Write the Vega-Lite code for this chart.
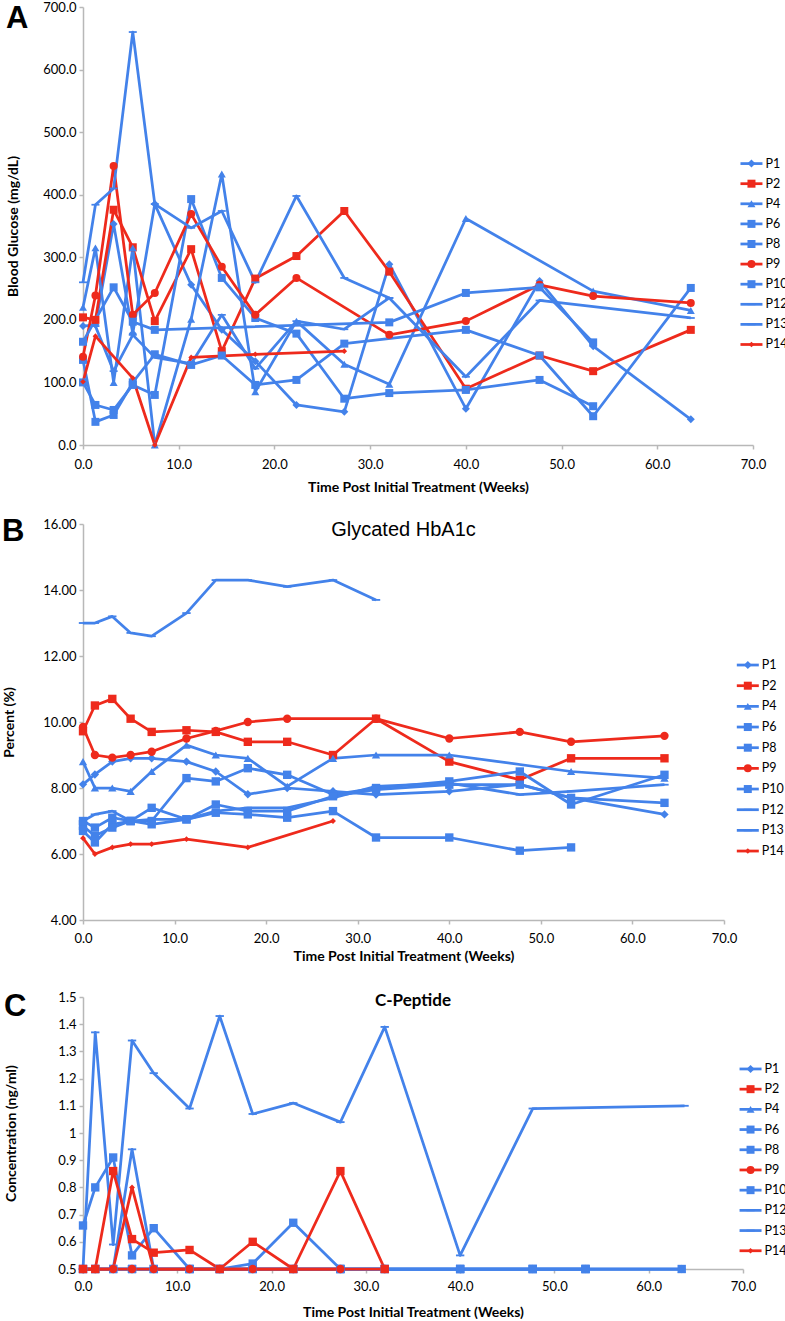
{
"$schema": "https://vega.github.io/schema/vega-lite/v6.json",
"padding": {"left": 2, "top": 1, "right": 0, "bottom": 0},
"background": "white",
"config": {
  "view": {"stroke": null},
  "font": "Lato",
  "axis": {"grid": false, "labelFlush": false, "labelOverlap": false, "domainColor": "#b8b8b8", "domainWidth": 1.5, "tickColor": "#b8b8b8", "tickWidth": 1.5, "tickSize": 4, "labelColor": "#000", "labelFont": "Lato", "labelFontSize": 13, "titleColor": "#000", "titleFont": "Lato", "titleFontWeight": "bold", "titleFontSize": 14},
  "title": {"color": "#000"}
},
"datasets": {
"glucose": [
{"patient":"P1","week":0,"value":190},{"patient":"P1","week":1.3,"value":192},{"patient":"P1","week":3.2,"value":353},{"patient":"P1","week":5.2,"value":178},{"patient":"P1","week":7.5,"value":385},{"patient":"P1","week":11.3,"value":256},{"patient":"P1","week":14.5,"value":184},{"patient":"P1","week":18,"value":134},{"patient":"P1","week":22.3,"value":64},{"patient":"P1","week":27.3,"value":53},{"patient":"P1","week":32,"value":289},{"patient":"P1","week":40,"value":58},{"patient":"P1","week":47.7,"value":262},{"patient":"P1","week":53.3,"value":158},{"patient":"P1","week":63.5,"value":41},
{"patient":"P2","week":0,"value":204},{"patient":"P2","week":1.3,"value":200},{"patient":"P2","week":3.2,"value":376},{"patient":"P2","week":5.2,"value":316},{"patient":"P2","week":7.5,"value":198},{"patient":"P2","week":11.3,"value":313},{"patient":"P2","week":14.5,"value":150},{"patient":"P2","week":18,"value":266},{"patient":"P2","week":22.3,"value":302},{"patient":"P2","week":27.3,"value":374},{"patient":"P2","week":32,"value":277},{"patient":"P2","week":40,"value":90},{"patient":"P2","week":47.7,"value":143},{"patient":"P2","week":53.3,"value":118},{"patient":"P2","week":63.5,"value":184},
{"patient":"P4","week":0,"value":220},{"patient":"P4","week":1.3,"value":315},{"patient":"P4","week":3.2,"value":100},{"patient":"P4","week":5.2,"value":315},{"patient":"P4","week":7.5,"value":0},{"patient":"P4","week":11.3,"value":201},{"patient":"P4","week":14.5,"value":433},{"patient":"P4","week":18,"value":85},{"patient":"P4","week":22.3,"value":198},{"patient":"P4","week":27.3,"value":129},{"patient":"P4","week":32,"value":97},{"patient":"P4","week":40,"value":362},{"patient":"P4","week":53.3,"value":246},{"patient":"P4","week":63.5,"value":215},
{"patient":"P6","week":0,"value":136},{"patient":"P6","week":1.3,"value":37},{"patient":"P6","week":3.2,"value":48},{"patient":"P6","week":5.2,"value":100},{"patient":"P6","week":7.5,"value":145},{"patient":"P6","week":11.3,"value":128},{"patient":"P6","week":14.5,"value":143},{"patient":"P6","week":18,"value":96},{"patient":"P6","week":22.3,"value":104},{"patient":"P6","week":27.3,"value":162},{"patient":"P6","week":40,"value":184},{"patient":"P6","week":47.7,"value":143},{"patient":"P6","week":53.3,"value":46},{"patient":"P6","week":63.5,"value":251},
{"patient":"P8","week":0,"value":100},{"patient":"P8","week":1.3,"value":64},{"patient":"P8","week":3.2,"value":56},{"patient":"P8","week":5.2,"value":96},{"patient":"P8","week":7.5,"value":80},{"patient":"P8","week":11.3,"value":393},{"patient":"P8","week":14.5,"value":267},{"patient":"P8","week":18,"value":203},{"patient":"P8","week":22.3,"value":178},{"patient":"P8","week":27.3,"value":74},{"patient":"P8","week":32,"value":83},{"patient":"P8","week":40,"value":88},{"patient":"P8","week":47.7,"value":104},{"patient":"P8","week":53.3,"value":62},
{"patient":"P9","week":0,"value":141},{"patient":"P9","week":1.3,"value":239},{"patient":"P9","week":3.2,"value":446},{"patient":"P9","week":5.2,"value":208},{"patient":"P9","week":7.5,"value":243},{"patient":"P9","week":11.3,"value":369},{"patient":"P9","week":14.5,"value":285},{"patient":"P9","week":18,"value":208},{"patient":"P9","week":22.3,"value":267},{"patient":"P9","week":32,"value":176},{"patient":"P9","week":40,"value":198},{"patient":"P9","week":47.7,"value":256},{"patient":"P9","week":53.3,"value":238},{"patient":"P9","week":63.5,"value":227},
{"patient":"P10","week":0,"value":165},{"patient":"P10","week":3.2,"value":252},{"patient":"P10","week":5.2,"value":197},{"patient":"P10","week":7.5,"value":184},{"patient":"P10","week":32,"value":196},{"patient":"P10","week":40,"value":243},{"patient":"P10","week":47.7,"value":252},{"patient":"P10","week":53.3,"value":164},
{"patient":"P12","week":0,"value":260},{"patient":"P12","week":1.3,"value":384},{"patient":"P12","week":3.2,"value":410},{"patient":"P12","week":5.2,"value":660},{"patient":"P12","week":7.5,"value":385},{"patient":"P12","week":11.3,"value":347},{"patient":"P12","week":14.5,"value":374},{"patient":"P12","week":18,"value":260},{"patient":"P12","week":22.3,"value":398},{"patient":"P12","week":27.3,"value":267},{"patient":"P12","week":32,"value":235},
{"patient":"P13","week":1.3,"value":190},{"patient":"P13","week":3.2,"value":118},{"patient":"P13","week":5.2,"value":176},{"patient":"P13","week":7.5,"value":140},{"patient":"P13","week":11.3,"value":130},{"patient":"P13","week":14.5,"value":208},{"patient":"P13","week":18,"value":122},{"patient":"P13","week":22.3,"value":198},{"patient":"P13","week":27.3,"value":185},{"patient":"P13","week":32,"value":235},{"patient":"P13","week":40,"value":109},{"patient":"P13","week":47.7,"value":231},{"patient":"P13","week":63.5,"value":203},
{"patient":"P14","week":0,"value":101},{"patient":"P14","week":1.3,"value":174},{"patient":"P14","week":5.2,"value":107},{"patient":"P14","week":7.5,"value":0},{"patient":"P14","week":11.3,"value":140},{"patient":"P14","week":18,"value":145},{"patient":"P14","week":27.3,"value":150}
],
"hba1c": [
{"patient":"P1","week":0,"value":8.11},{"patient":"P1","week":1.3,"value":8.41},{"patient":"P1","week":3.2,"value":8.8},{"patient":"P1","week":5.2,"value":8.9},{"patient":"P1","week":7.5,"value":8.9},{"patient":"P1","week":11.3,"value":8.8},{"patient":"P1","week":14.5,"value":8.5},{"patient":"P1","week":18,"value":7.81},{"patient":"P1","week":22.3,"value":8.0},{"patient":"P1","week":27.3,"value":7.9},{"patient":"P1","week":32,"value":7.8},{"patient":"P1","week":40,"value":7.9},{"patient":"P1","week":47.7,"value":8.11},{"patient":"P1","week":53.3,"value":7.7},{"patient":"P1","week":63.5,"value":7.2},
{"patient":"P2","week":0,"value":9.72},{"patient":"P2","week":1.3,"value":10.5},{"patient":"P2","week":3.2,"value":10.7},{"patient":"P2","week":5.2,"value":10.1},{"patient":"P2","week":7.5,"value":9.7},{"patient":"P2","week":11.3,"value":9.75},{"patient":"P2","week":14.5,"value":9.7},{"patient":"P2","week":18,"value":9.4},{"patient":"P2","week":22.3,"value":9.4},{"patient":"P2","week":27.3,"value":9.0},{"patient":"P2","week":32,"value":10.1},{"patient":"P2","week":40,"value":8.8},{"patient":"P2","week":47.7,"value":8.25},{"patient":"P2","week":53.3,"value":8.9},{"patient":"P2","week":63.5,"value":8.9},
{"patient":"P4","week":0,"value":8.8},{"patient":"P4","week":1.3,"value":8.0},{"patient":"P4","week":3.2,"value":8.0},{"patient":"P4","week":5.2,"value":7.9},{"patient":"P4","week":7.5,"value":8.5},{"patient":"P4","week":11.3,"value":9.3},{"patient":"P4","week":14.5,"value":9.0},{"patient":"P4","week":18,"value":8.9},{"patient":"P4","week":22.3,"value":8.05},{"patient":"P4","week":27.3,"value":8.9},{"patient":"P4","week":32,"value":9.0},{"patient":"P4","week":40,"value":9.0},{"patient":"P4","week":53.3,"value":8.5},{"patient":"P4","week":63.5,"value":8.3},
{"patient":"P6","week":0,"value":6.7},{"patient":"P6","week":1.3,"value":6.35},{"patient":"P6","week":3.2,"value":6.9},{"patient":"P6","week":5.2,"value":7.0},{"patient":"P6","week":7.5,"value":6.9},{"patient":"P6","week":11.3,"value":7.05},{"patient":"P6","week":14.5,"value":7.25},{"patient":"P6","week":18,"value":7.2},{"patient":"P6","week":22.3,"value":7.1},{"patient":"P6","week":27.3,"value":7.3},{"patient":"P6","week":32,"value":6.5},{"patient":"P6","week":40,"value":6.5},{"patient":"P6","week":47.7,"value":6.1},{"patient":"P6","week":53.3,"value":6.2},
{"patient":"P8","week":0,"value":6.85},{"patient":"P8","week":1.3,"value":6.55},{"patient":"P8","week":3.2,"value":6.8},{"patient":"P8","week":5.2,"value":7.0},{"patient":"P8","week":7.5,"value":7.0},{"patient":"P8","week":11.3,"value":8.3},{"patient":"P8","week":14.5,"value":8.2},{"patient":"P8","week":18,"value":8.6},{"patient":"P8","week":22.3,"value":8.4},{"patient":"P8","week":27.3,"value":7.8},{"patient":"P8","week":32,"value":8.0},{"patient":"P8","week":40,"value":8.2},{"patient":"P8","week":47.7,"value":8.5},{"patient":"P8","week":53.3,"value":7.5},{"patient":"P8","week":63.5,"value":8.4},
{"patient":"P9","week":0,"value":9.85},{"patient":"P9","week":1.3,"value":9.0},{"patient":"P9","week":3.2,"value":8.92},{"patient":"P9","week":5.2,"value":9.0},{"patient":"P9","week":7.5,"value":9.1},{"patient":"P9","week":11.3,"value":9.5},{"patient":"P9","week":14.5,"value":9.73},{"patient":"P9","week":18,"value":10.0},{"patient":"P9","week":22.3,"value":10.1},{"patient":"P9","week":32,"value":10.1},{"patient":"P9","week":40,"value":9.5},{"patient":"P9","week":47.7,"value":9.7},{"patient":"P9","week":53.3,"value":9.4},{"patient":"P9","week":63.5,"value":9.58},
{"patient":"P10","week":0,"value":7.0},{"patient":"P10","week":1.3,"value":6.8},{"patient":"P10","week":3.2,"value":7.1},{"patient":"P10","week":5.2,"value":7.0},{"patient":"P10","week":7.5,"value":7.4},{"patient":"P10","week":11.3,"value":7.05},{"patient":"P10","week":14.5,"value":7.5},{"patient":"P10","week":18,"value":7.3},{"patient":"P10","week":22.3,"value":7.3},{"patient":"P10","week":27.3,"value":7.75},{"patient":"P10","week":32,"value":7.95},{"patient":"P10","week":40,"value":8.1},{"patient":"P10","week":47.7,"value":8.1},{"patient":"P10","week":53.3,"value":7.7},{"patient":"P10","week":63.5,"value":7.55},
{"patient":"P12","week":0,"value":7.0},{"patient":"P12","week":1.3,"value":7.2},{"patient":"P12","week":3.2,"value":7.3},{"patient":"P12","week":5.2,"value":7.0},{"patient":"P12","week":7.5,"value":7.05},{"patient":"P12","week":11.3,"value":7.05},{"patient":"P12","week":14.5,"value":7.3},{"patient":"P12","week":18,"value":7.4},{"patient":"P12","week":22.3,"value":7.4},{"patient":"P12","week":27.3,"value":7.7},{"patient":"P12","week":32,"value":8.05},{"patient":"P12","week":40,"value":8.15},{"patient":"P12","week":47.7,"value":7.8},{"patient":"P12","week":53.3,"value":7.9},{"patient":"P12","week":63.5,"value":8.1},
{"patient":"P13","week":0,"value":13.0},{"patient":"P13","week":1.3,"value":13.0},{"patient":"P13","week":3.2,"value":13.2},{"patient":"P13","week":5.2,"value":12.7},{"patient":"P13","week":7.5,"value":12.6},{"patient":"P13","week":11.3,"value":13.3},{"patient":"P13","week":14.5,"value":14.3},{"patient":"P13","week":18,"value":14.3},{"patient":"P13","week":22.3,"value":14.1},{"patient":"P13","week":27.3,"value":14.3},{"patient":"P13","week":32,"value":13.7},
{"patient":"P14","week":0,"value":6.48},{"patient":"P14","week":1.3,"value":6.0},{"patient":"P14","week":3.2,"value":6.2},{"patient":"P14","week":5.2,"value":6.3},{"patient":"P14","week":7.5,"value":6.3},{"patient":"P14","week":11.3,"value":6.45},{"patient":"P14","week":18,"value":6.2},{"patient":"P14","week":27.3,"value":7.0}
],
"cpeptide": [
{"patient":"P1","week":0,"value":0.5},{"patient":"P1","week":1.3,"value":0.5},{"patient":"P1","week":3.2,"value":0.5},{"patient":"P1","week":5.2,"value":0.5},{"patient":"P1","week":7.5,"value":0.5},{"patient":"P1","week":11.3,"value":0.5},{"patient":"P1","week":14.5,"value":0.5},{"patient":"P1","week":18,"value":0.5},{"patient":"P1","week":22.3,"value":0.5},{"patient":"P1","week":27.3,"value":0.5},{"patient":"P1","week":32,"value":0.5},{"patient":"P1","week":40,"value":0.5},{"patient":"P1","week":47.7,"value":0.5},{"patient":"P1","week":53.3,"value":0.5},{"patient":"P1","week":63.5,"value":0.5},
{"patient":"P4","week":0,"value":0.5},{"patient":"P4","week":1.3,"value":0.5},{"patient":"P4","week":3.2,"value":0.5},{"patient":"P4","week":5.2,"value":0.5},{"patient":"P4","week":7.5,"value":0.5},{"patient":"P4","week":11.3,"value":0.5},{"patient":"P4","week":14.5,"value":0.5},{"patient":"P4","week":18,"value":0.5},{"patient":"P4","week":22.3,"value":0.5},{"patient":"P4","week":27.3,"value":0.5},{"patient":"P4","week":32,"value":0.5},{"patient":"P4","week":40,"value":0.5},{"patient":"P4","week":53.3,"value":0.5},{"patient":"P4","week":63.5,"value":0.5},
{"patient":"P6","week":0,"value":0.5},{"patient":"P6","week":1.3,"value":0.5},{"patient":"P6","week":3.2,"value":0.5},{"patient":"P6","week":5.2,"value":0.5},{"patient":"P6","week":7.5,"value":0.5},{"patient":"P6","week":11.3,"value":0.5},{"patient":"P6","week":14.5,"value":0.5},{"patient":"P6","week":18,"value":0.5},{"patient":"P6","week":22.3,"value":0.5},{"patient":"P6","week":27.3,"value":0.5},{"patient":"P6","week":40,"value":0.5},{"patient":"P6","week":47.7,"value":0.5},{"patient":"P6","week":53.3,"value":0.5},
{"patient":"P8","week":0,"value":0.5},{"patient":"P8","week":1.3,"value":0.5},{"patient":"P8","week":3.2,"value":0.5},{"patient":"P8","week":5.2,"value":0.5},{"patient":"P8","week":7.5,"value":0.5},{"patient":"P8","week":11.3,"value":0.5},{"patient":"P8","week":14.5,"value":0.5},{"patient":"P8","week":18,"value":0.5},{"patient":"P8","week":22.3,"value":0.5},{"patient":"P8","week":27.3,"value":0.5},{"patient":"P8","week":32,"value":0.5},{"patient":"P8","week":40,"value":0.5},{"patient":"P8","week":47.7,"value":0.5},{"patient":"P8","week":53.3,"value":0.5},
{"patient":"P10","week":0,"value":0.66},{"patient":"P10","week":1.3,"value":0.8},{"patient":"P10","week":3.2,"value":0.91},{"patient":"P10","week":5.2,"value":0.55},{"patient":"P10","week":7.5,"value":0.65},{"patient":"P10","week":11.3,"value":0.5},{"patient":"P10","week":14.5,"value":0.5},{"patient":"P10","week":18,"value":0.52},{"patient":"P10","week":22.3,"value":0.67},{"patient":"P10","week":27.3,"value":0.5},{"patient":"P10","week":32,"value":0.5},{"patient":"P10","week":40,"value":0.5},{"patient":"P10","week":47.7,"value":0.5},{"patient":"P10","week":53.3,"value":0.5},{"patient":"P10","week":63.5,"value":0.5},
{"patient":"P12","week":0,"value":0.5},{"patient":"P12","week":1.3,"value":0.5},{"patient":"P12","week":3.2,"value":0.5},{"patient":"P12","week":5.2,"value":0.94},{"patient":"P12","week":7.5,"value":0.5},{"patient":"P12","week":11.3,"value":0.5},{"patient":"P12","week":14.5,"value":0.5},{"patient":"P12","week":18,"value":0.5},{"patient":"P12","week":22.3,"value":0.5},{"patient":"P12","week":27.3,"value":0.5},{"patient":"P12","week":32,"value":0.5},
{"patient":"P13","week":0,"value":0.5},{"patient":"P13","week":1.3,"value":1.37},{"patient":"P13","week":3.2,"value":0.59},{"patient":"P13","week":5.2,"value":1.34},{"patient":"P13","week":7.5,"value":1.22},{"patient":"P13","week":11.3,"value":1.09},{"patient":"P13","week":14.5,"value":1.43},{"patient":"P13","week":18,"value":1.07},{"patient":"P13","week":22.3,"value":1.11},{"patient":"P13","week":27.3,"value":1.04},{"patient":"P13","week":32,"value":1.39},{"patient":"P13","week":40,"value":0.55},{"patient":"P13","week":47.7,"value":1.09},{"patient":"P13","week":63.8,"value":1.1},
{"patient":"P9","week":0,"value":0.5},{"patient":"P9","week":1.3,"value":0.5},{"patient":"P9","week":3.2,"value":0.5},{"patient":"P9","week":5.2,"value":0.5},{"patient":"P9","week":7.5,"value":0.5},{"patient":"P9","week":11.3,"value":0.5},{"patient":"P9","week":14.5,"value":0.5},{"patient":"P9","week":18,"value":0.5},{"patient":"P9","week":22.3,"value":0.5},{"patient":"P9","week":27.3,"value":0.5},{"patient":"P9","week":32,"value":0.5},
{"patient":"P2","week":0,"value":0.5},{"patient":"P2","week":1.3,"value":0.5},{"patient":"P2","week":3.2,"value":0.86},{"patient":"P2","week":5.2,"value":0.61},{"patient":"P2","week":7.5,"value":0.56},{"patient":"P2","week":11.3,"value":0.57},{"patient":"P2","week":14.5,"value":0.5},{"patient":"P2","week":18,"value":0.6},{"patient":"P2","week":22.3,"value":0.5},{"patient":"P2","week":27.3,"value":0.86},{"patient":"P2","week":32,"value":0.5},
{"patient":"P14","week":0,"value":0.5},{"patient":"P14","week":1.3,"value":0.5},{"patient":"P14","week":3.2,"value":0.5},{"patient":"P14","week":5.2,"value":0.8},{"patient":"P14","week":7.5,"value":0.5},{"patient":"P14","week":11.3,"value":0.5},{"patient":"P14","week":18,"value":0.5},{"patient":"P14","week":27.3,"value":0.5}
]
},
"spacing": 22,
"vconcat": [
{
 "title": {"text": "A", "anchor": "start", "frame": "bounds", "font": "Liberation Sans", "fontSize": 31, "fontWeight": "bold", "baseline": "top", "offset": -34},
 "vconcat": [{
  "width": 670, "height": 438,
  "data": {"name": "glucose"},
  "layer": [
   {"encoding": {
      "x": {"field": "week", "type": "quantitative", "scale": {"domain": [0, 70], "nice": false, "padding": 0, "zero": false}, "axis": {"title": "Time Post Initial Treatment (Weeks)", "values": [0,10,20,30,40,50,60,70], "format": ".1f", "labelPadding": 9, "minExtent": 24, "maxExtent": 24, "titlePadding": 11}},
      "y": {"field": "value", "type": "quantitative", "scale": {"domain": [0, 700], "nice": false}, "axis": {"title": "Blood Glucose (mg/dL)", "values": [0,100,200,300,400,500,600,700], "format": ".1f", "labelPadding": 3, "minExtent": 54, "maxExtent": 54, "titlePadding": 9}},
      "color": {"field": "patient", "type": "nominal", "legend": null, "scale": {"domain": ["P1","P2","P4","P6","P8","P9","P10","P12","P13","P14"], "range": ["#4382ea","#ee2a1c","#4382ea","#4382ea","#4382ea","#ee2a1c","#4382ea","#4382ea","#4382ea","#ee2a1c"]}}
    },
    "layer": [
     {"mark": {"type": "line", "strokeWidth": 2.75, "strokeJoin": "round"}},
     {"mark": {"type": "point", "filled": true, "opacity": 1, "size": 64},
      "encoding": {"shape": {"field": "patient", "type": "nominal", "legend": null, "scale": {"domain": ["P1","P2","P4","P6","P8","P9","P10","P12","P13","P14"], "range": ["diamond","square","triangle-up","square","square","circle","square","M-1,-0.22H1V0.22H-1Z","M-1,-0.22H1V0.22H-1Z","M0,-0.7L0.7,0L0,0.7L-0.7,0Z"]}}}}
    ]
   },
   {"transform": [{"aggregate": [{"op": "count", "as": "n"}], "groupby": ["patient"]}],
    "encoding": {
      "x": {"datum": 69.84, "type": "quantitative", "scale": {"domain": [0, 70], "nice": false, "padding": 0, "zero": false}, "axis": {"title": "Time Post Initial Treatment (Weeks)", "values": [0,10,20,30,40,50,60,70], "format": ".1f", "labelPadding": 9, "minExtent": 24, "maxExtent": 24, "titlePadding": 11}},
      "y": {"field": "patient", "type": "nominal", "axis": null, "scale": {"type": "point", "domain": ["_a1","_a2","_a3","_a4","_a5","_a6","_a7","P1","P2","P4","P6","P8","P9","P10","P12","P13","P14","_b1","_b2","_b3","_b4","_b5"], "padding": 0.395, "align": 1}},
      "color": {"field": "patient", "type": "nominal", "legend": null, "scale": {"domain": ["P1","P2","P4","P6","P8","P9","P10","P12","P13","P14"], "range": ["#4382ea","#ee2a1c","#4382ea","#4382ea","#4382ea","#ee2a1c","#4382ea","#4382ea","#4382ea","#ee2a1c"]}}
    },
    "layer": [
     {"mark": {"type": "point", "shape": "M-1,0H1", "filled": false, "strokeWidth": 2.75, "size": 484, "opacity": 1}},
     {"mark": {"type": "point", "filled": true, "opacity": 1, "size": 64},
      "encoding": {"shape": {"field": "patient", "type": "nominal", "legend": null, "scale": {"domain": ["P1","P2","P4","P6","P8","P9","P10","P12","P13","P14"], "range": ["diamond","square","triangle-up","square","square","circle","square","M-1,-0.22H1V0.22H-1Z","M-1,-0.22H1V0.22H-1Z","M0,-0.7L0.7,0L0,0.7L-0.7,0Z"]}}}},
     {"mark": {"type": "text", "align": "left", "baseline": "middle", "dx": 14, "fontSize": 12.5, "font": "Lato"},
      "encoding": {"text": {"field": "patient"}, "color": {"value": "#000"}}}
    ]
   }
  ],
  "resolve": {"scale": {"y": "independent"}}
 }]
},
{
"spacing": 28,
"vconcat": [
{
 "title": {"text": "B", "anchor": "start", "frame": "bounds", "font": "Liberation Sans", "fontSize": 31, "fontWeight": "bold", "baseline": "top", "offset": -30},
 "vconcat": [{
  "width": 641, "height": 396,
  "title": {"text": "Glycated HbA1c", "font": "Liberation Sans", "fontSize": 20, "fontWeight": "normal", "anchor": "middle", "baseline": "top", "offset": -22},
  "data": {"name": "hba1c"},
  "layer": [
   {"encoding": {
      "x": {"field": "week", "type": "quantitative", "scale": {"domain": [0, 70], "nice": false, "padding": 0, "zero": false}, "axis": {"title": "Time Post Initial Treatment (Weeks)", "values": [0,10,20,30,40,50,60,70], "format": ".1f", "labelPadding": 8, "minExtent": 24, "maxExtent": 24, "titlePadding": 5}},
      "y": {"field": "value", "type": "quantitative", "scale": {"domain": [4, 16], "nice": false}, "axis": {"title": "Percent (%)", "values": [4,6,8,10,12,14,16], "format": ".2f", "labelPadding": 3, "minExtent": 58, "maxExtent": 58, "titlePadding": 9}},
      "color": {"field": "patient", "type": "nominal", "legend": null, "scale": {"domain": ["P1","P2","P4","P6","P8","P9","P10","P12","P13","P14"], "range": ["#4382ea","#ee2a1c","#4382ea","#4382ea","#4382ea","#ee2a1c","#4382ea","#4382ea","#4382ea","#ee2a1c"]}}
    },
    "layer": [
     {"mark": {"type": "line", "strokeWidth": 2.75, "strokeJoin": "round"}},
     {"mark": {"type": "point", "filled": true, "opacity": 1, "size": 70},
      "encoding": {"shape": {"field": "patient", "type": "nominal", "legend": null, "scale": {"domain": ["P1","P2","P4","P6","P8","P9","P10","P12","P13","P14"], "range": ["diamond","square","triangle-up","square","square","circle","square","M-1,-0.22H1V0.22H-1Z","M-1,-0.22H1V0.22H-1Z","M0,-0.7L0.7,0L0,0.7L-0.7,0Z"]}}}}
    ]
   },
   {"transform": [{"aggregate": [{"op": "count", "as": "n"}], "groupby": ["patient"]}],
    "encoding": {
      "x": {"datum": 72.6, "type": "quantitative", "scale": {"domain": [0, 70], "nice": false, "padding": 0, "zero": false}, "axis": {"title": "Time Post Initial Treatment (Weeks)", "values": [0,10,20,30,40,50,60,70], "format": ".1f", "labelPadding": 8, "minExtent": 24, "maxExtent": 24, "titlePadding": 5}},
      "y": {"field": "patient", "type": "nominal", "axis": null, "scale": {"type": "point", "domain": ["_a1","_a2","_a3","_a4","_a5","_a6","P1","P2","P4","P6","P8","P9","P10","P12","P13","P14","_b1","_b2","_b3"], "padding": 0.58, "align": 0.71}},
      "color": {"field": "patient", "type": "nominal", "legend": null, "scale": {"domain": ["P1","P2","P4","P6","P8","P9","P10","P12","P13","P14"], "range": ["#4382ea","#ee2a1c","#4382ea","#4382ea","#4382ea","#ee2a1c","#4382ea","#4382ea","#4382ea","#ee2a1c"]}}
    },
    "layer": [
     {"mark": {"type": "point", "shape": "M-1,0H1", "filled": false, "strokeWidth": 2.75, "size": 484, "opacity": 1}},
     {"mark": {"type": "point", "filled": true, "opacity": 1, "size": 64},
      "encoding": {"shape": {"field": "patient", "type": "nominal", "legend": null, "scale": {"domain": ["P1","P2","P4","P6","P8","P9","P10","P12","P13","P14"], "range": ["diamond","square","triangle-up","square","square","circle","square","M-1,-0.22H1V0.22H-1Z","M-1,-0.22H1V0.22H-1Z","M0,-0.7L0.7,0L0,0.7L-0.7,0Z"]}}}},
     {"mark": {"type": "text", "align": "left", "baseline": "middle", "dx": 14, "fontSize": 12.5, "font": "Lato"},
      "encoding": {"text": {"field": "patient"}, "color": {"value": "#000"}}}
    ]
   }
  ],
  "resolve": {"scale": {"y": "independent"}}
 }]
},
{
 "title": {"text": "C", "anchor": "start", "frame": "bounds", "font": "Liberation Sans", "fontSize": 31, "fontWeight": "bold", "baseline": "top", "offset": -32},
 "vconcat": [{
  "width": 660, "height": 272,
  "title": {"text": "C-Peptide", "font": "Lato", "fontSize": 17, "fontWeight": "bold", "anchor": "middle", "baseline": "top", "offset": -19},
  "data": {"name": "cpeptide"},
  "layer": [
   {"encoding": {
      "x": {"field": "week", "type": "quantitative", "scale": {"domain": [0, 70], "nice": false, "padding": 0, "zero": false}, "axis": {"title": "Time Post Initial Treatment (Weeks)", "values": [0,10,20,30,40,50,60,70], "format": ".1f", "labelPadding": 7, "minExtent": 24, "maxExtent": 24, "titlePadding": 12}},
      "y": {"field": "value", "type": "quantitative", "scale": {"domain": [0.5, 1.5], "nice": false}, "axis": {"title": "Concentration (ng/ml)", "values": [0.5,0.6,0.7,0.8,0.9,1,1.1,1.2,1.3,1.4,1.5], "format": ".1~f", "labelPadding": 3, "minExtent": 56, "maxExtent": 56, "titlePadding": 9}},
      "color": {"field": "patient", "type": "nominal", "legend": null, "scale": {"domain": ["P1","P2","P4","P6","P8","P9","P10","P12","P13","P14"], "range": ["#4382ea","#ee2a1c","#4382ea","#4382ea","#4382ea","#ee2a1c","#4382ea","#4382ea","#4382ea","#ee2a1c"]}}
    },
    "layer": [
     {"mark": {"type": "line", "strokeWidth": 2.75, "strokeJoin": "round"}},
     {"mark": {"type": "point", "filled": true, "opacity": 1, "size": 70},
      "encoding": {"shape": {"field": "patient", "type": "nominal", "legend": null, "scale": {"domain": ["P1","P2","P4","P6","P8","P9","P10","P12","P13","P14"], "range": ["diamond","square","triangle-up","square","square","circle","square","M-1,-0.22H1V0.22H-1Z","M-1,-0.22H1V0.22H-1Z","M0,-0.7L0.7,0L0,0.7L-0.7,0Z"]}}}}
    ]
   },
   {"transform": [{"aggregate": [{"op": "count", "as": "n"}], "groupby": ["patient"]}],
    "encoding": {
      "x": {"datum": 70.8, "type": "quantitative", "scale": {"domain": [0, 70], "nice": false, "padding": 0, "zero": false}, "axis": {"title": "Time Post Initial Treatment (Weeks)", "values": [0,10,20,30,40,50,60,70], "format": ".1f", "labelPadding": 7, "minExtent": 24, "maxExtent": 24, "titlePadding": 12}},
      "y": {"field": "patient", "type": "nominal", "axis": null, "scale": {"type": "point", "domain": ["_a1","_a2","_a3","P1","P2","P4","P6","P8","P9","P10","P12","P13","P14"], "padding": 0.733, "align": 0.384}},
      "color": {"field": "patient", "type": "nominal", "legend": null, "scale": {"domain": ["P1","P2","P4","P6","P8","P9","P10","P12","P13","P14"], "range": ["#4382ea","#ee2a1c","#4382ea","#4382ea","#4382ea","#ee2a1c","#4382ea","#4382ea","#4382ea","#ee2a1c"]}}
    },
    "layer": [
     {"mark": {"type": "point", "shape": "M-1,0H1", "filled": false, "strokeWidth": 2.75, "size": 484, "opacity": 1}},
     {"mark": {"type": "point", "filled": true, "opacity": 1, "size": 64},
      "encoding": {"shape": {"field": "patient", "type": "nominal", "legend": null, "scale": {"domain": ["P1","P2","P4","P6","P8","P9","P10","P12","P13","P14"], "range": ["diamond","square","triangle-up","square","square","circle","square","M-1,-0.22H1V0.22H-1Z","M-1,-0.22H1V0.22H-1Z","M0,-0.7L0.7,0L0,0.7L-0.7,0Z"]}}}},
     {"mark": {"type": "text", "align": "left", "baseline": "middle", "dx": 14, "fontSize": 12.5, "font": "Lato"},
      "encoding": {"text": {"field": "patient"}, "color": {"value": "#000"}}}
    ]
   }
  ],
  "resolve": {"scale": {"y": "independent"}}
 }]
}
]
}
]
}
